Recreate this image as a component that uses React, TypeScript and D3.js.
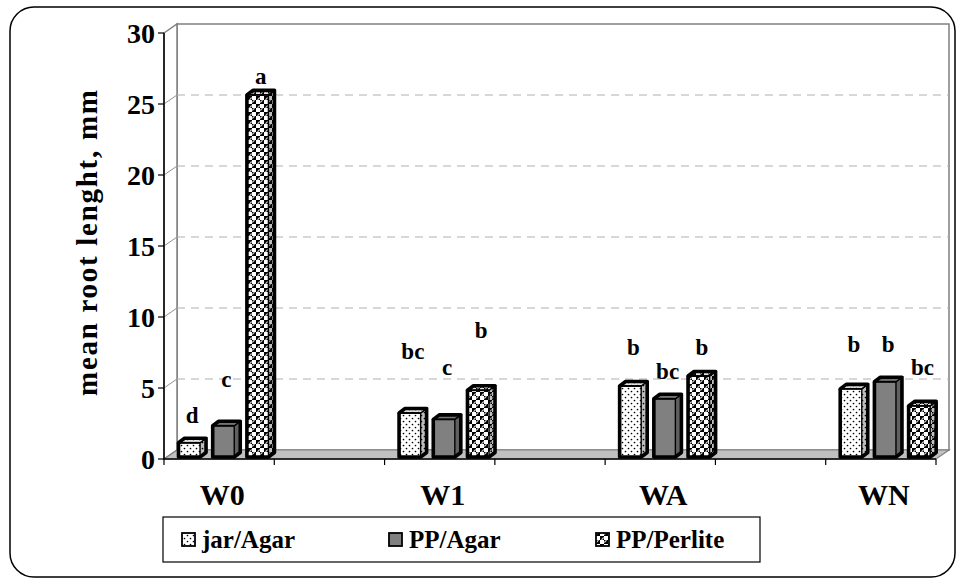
import React from "react";
import * as d3 from "d3";

const categories = ["W0", "W1", "WA", "WN"];
const series = ["jar/Agar", "PP/Agar", "PP/Perlite"];
const jarAgar = [1.0, 3.1, 5.0, 4.8];
const ppAgar = [2.2, 2.65, 4.1, 5.3];
const ppPerlite = [25.5, 4.7, 5.7, 3.6];
const jarAgarLetters = ["d", "bc", "b", "b"];
const ppAgarLetters = ["c", "c", "bc", "b"];
const ppPerliteLetters = ["a", "b", "b", "bc"];
// heights (in axis units) where each significance letter sits
const jarAgarLetterY = [2.4, 6.9, 7.2, 7.4];
const ppAgarLetterY = [4.9, 5.8, 5.5, 7.4];
const ppPerliteLetterY = [26.3, 8.4, 7.2, 5.8];
const yTicks = [0, 5, 10, 15, 20, 25, 30];
const yTitle = "mean root lenght, mm";

const values = [jarAgar, ppAgar, ppPerlite];
const letters = [jarAgarLetters, ppAgarLetters, ppPerliteLetters];
const letterY = [jarAgarLetterY, ppAgarLetterY, ppPerliteLetterY];
const patterns = ["url(#dots)", "#808080", "url(#checker)"];

const FONT = "'Liberation Serif', 'Times New Roman', serif";

export default function App() {
  const W = 963, H = 585;
  const x0 = 164, x1 = 936;
  const DX = 13, DY = -9;
  const BDX = 6, BDY = -4.5;
  const y = d3.scaleLinear().domain([0, 30]).range([459, 33]);
  const yBar = d3.scaleLinear().domain([0, 30]).range([457, 31]);
  // slots: categories with blank slots between them
  const slots: string[] = [];
  categories.forEach((c, i) => {
    slots.push(c);
    if (i < categories.length - 1) slots.push("_gap" + i);
  });
  const xSlot = d3.scaleBand().domain(slots).range([x0, x1]).paddingInner(0).paddingOuter(0);
  const sw = xSlot.bandwidth();
  const inStart = 14.5;
  const xInner = d3.scaleBand().domain(series).range([inStart, inStart + 34.2 * 2.63]).paddingInner(0.37).paddingOuter(0);
  const bw = xInner.bandwidth();

  const bars: any[] = [];
  categories.forEach((c, ci) => {
    series.forEach((s, si) => {
      const v = values[si][ci];
      const bx = (xSlot(c) as number) + (xInner(s) as number);
      const base = yBar(0);
      const top = yBar(v);
      bars.push({ key: c + s, bx, base, top, si, ci, v });
    });
  });

  const slotEdges = d3.range(slots.length + 1).map((i) => x0 + i * sw);

  return (
    <svg width={W} height={H} style={{ position: "absolute", left: 0, top: 0, background: "#fff" }}>
      <defs>
        <pattern id="dots" width="6" height="6" patternUnits="userSpaceOnUse">
          <rect width="6" height="6" fill="#fff" />
          <circle cx="1.5" cy="1.5" r="0.85" fill="#000" />
          <circle cx="4.5" cy="4.5" r="0.85" fill="#000" />
        </pattern>
        <pattern id="checker" width="8" height="8" patternUnits="userSpaceOnUse">
          <rect width="8" height="8" fill="#fff" />
          <rect x="0" y="0" width="4" height="4" fill="#000" />
          <rect x="4" y="4" width="4" height="4" fill="#000" />
          <circle cx="4" cy="4" r="2.2" fill="none" stroke="#fff" strokeWidth="1" />
          <circle cx="0" cy="0" r="2.2" fill="none" stroke="#000" strokeWidth="0.8" />
        </pattern>
      </defs>
      {/* outer frame */}
      <rect x={10} y={7} width={945} height={570} rx={24} ry={24} fill="#fff" stroke="#000" strokeWidth={1.5} />

      {/* back wall */}
      <polygon
        points={`${x0 + DX},${y(30) + DY} ${x1 + DX},${y(30) + DY} ${x1 + DX},${y(0) + DY} ${x0 + DX},${y(0) + DY}`}
        fill="#fff" stroke="#808080" strokeWidth={1.5} />
      {/* left wall */}
      <polygon
        points={`${x0},${y(30)} ${x0 + DX},${y(30) + DY} ${x0 + DX},${y(0) + DY} ${x0},${y(0)}`}
        fill="#fff" stroke="#808080" strokeWidth={1.5} />
      {/* gridlines */}
      {yTicks.filter((t) => t > 0 && t < 30).map((t) => (
        <g key={"g" + t}>
          <line x1={x0 + DX} x2={x1 + DX} y1={y(t) + DY} y2={y(t) + DY} stroke="#b0b0b0" strokeWidth={1.2} strokeDasharray="8,6" />
          <line x1={x0} x2={x0 + DX} y1={y(t)} y2={y(t) + DY} stroke="#909090" strokeWidth={1} />
        </g>
      ))}
      {/* floor */}
      <polygon
        points={`${x0},${y(0)} ${x1},${y(0)} ${x1 + DX},${y(0) + DY} ${x0 + DX},${y(0) + DY}`}
        fill="#c0c0c0" stroke="#808080" strokeWidth={1.2} />

      {/* bars */}
      {bars.map((b) => {
        const { bx, base, top, si } = b;
        const fill = patterns[si];
        const side = `${bx + bw},${top} ${bx + bw + BDX},${top + BDY} ${bx + bw + BDX},${base + BDY} ${bx + bw},${base}`;
        const topF = `${bx},${top} ${bx + BDX},${top + BDY} ${bx + bw + BDX},${top + BDY} ${bx + bw},${top}`;
        const outline = `${bx},${base} ${bx},${top} ${bx + BDX},${top + BDY} ${bx + bw + BDX},${top + BDY} ${bx + bw + BDX},${base + BDY} ${bx + bw},${base}`;
        return (
          <g key={b.key}>
            <rect x={bx} y={top} width={bw} height={base - top} fill={fill} />
            <polygon points={side} fill={fill} />
            <polygon points={side} fill="#000" fillOpacity={0.25} stroke="#000" strokeWidth={1.4} />
            <polygon points={topF} fill={fill} />
            <polygon points={topF} fill="#000" fillOpacity={0.1} stroke="#000" strokeWidth={1.4} />
            <line x1={bx} x2={bx + bw} y1={top} y2={top} stroke="#000" strokeWidth={1.8} />
            <polygon points={outline} fill="none" stroke="#000" strokeWidth={3.6} strokeLinejoin="round" />
          </g>
        );
      })}

      {/* significance letters */}
      {bars.map((b) => (
        <text key={"l" + b.key} x={b.bx + bw / 2 + BDX / 2} y={yBar(letterY[b.si][b.ci])}
          textAnchor="middle" fontFamily={FONT} fontWeight="bold" fontSize={23}>
          {letters[b.si][b.ci]}
        </text>
      ))}

      {/* value axis */}
      <line x1={x0} x2={x0} y1={y(30)} y2={y(0)} stroke="#000" strokeWidth={1.5} />
      {yTicks.map((t) => (
        <g key={"t" + t}>
          <line x1={x0 - 6} x2={x0} y1={y(t)} y2={y(t)} stroke="#000" strokeWidth={1.2} />
          <text x={x0 - 9} y={y(t)} dy="0.34em" textAnchor="end" fontFamily={FONT} fontWeight="bold" fontSize={28}>
            {t}
          </text>
        </g>
      ))}
      {/* category axis */}
      <line x1={x0} x2={x1} y1={y(0)} y2={y(0)} stroke="#000" strokeWidth={1.5} />
      {slotEdges.map((e, i) => (
        <line key={"xt" + i} x1={e} x2={e} y1={y(0)} y2={y(0) + 6} stroke="#000" strokeWidth={1.2} />
      ))}
      {categories.map((c) => (
        <text key={"c" + c} x={(xSlot(c) as number) + sw / 2 + 3} y={505} textAnchor="middle"
          fontFamily={FONT} fontWeight="bold" fontSize={30}>
          {c}
        </text>
      ))}
      {/* y title */}
      <text transform={`translate(97,${243}) rotate(-90)`} textAnchor="middle" fontFamily={FONT}
        fontWeight="bold" fontSize={29} textLength={306} lengthAdjust="spacing">
        {yTitle}
      </text>

      {/* legend */}
      <rect x={163} y={517} width={597} height={45} fill="#fff" stroke="#000" strokeWidth={1.2} />
      {series.map((s, i) => {
        const lx = 182 + i * 207;
        return (
          <g key={"lg" + s}>
            <rect x={lx} y={533} width={13} height={13} fill={patterns[i]} stroke="#000" strokeWidth={1.8} />
            <text x={lx + 20} y={548} fontFamily={FONT} fontWeight="bold" fontSize={25}>{s}</text>
          </g>
        );
      })}
    </svg>
  );
}
